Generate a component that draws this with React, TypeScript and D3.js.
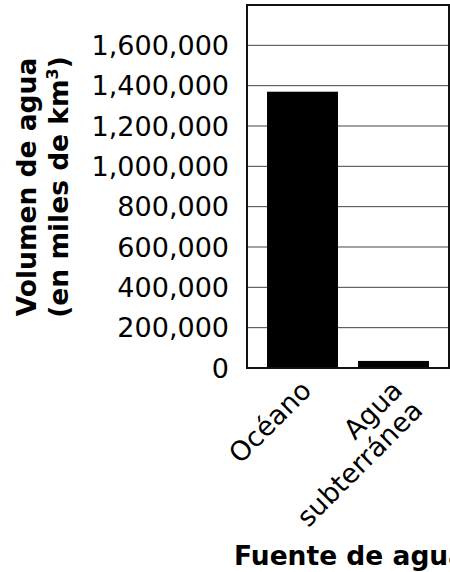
import React from "react";
import * as d3 from "d3";

const categories = ["Océano", "Agua subterránea"];
const categoryLines = [["Océano"], ["Agua", "subterránea"]];
const values = [1370000, 35000];
const yTicks = [0, 200000, 400000, 600000, 800000, 1000000, 1200000, 1400000, 1600000];
const yMax = 1800000;

export default function App() {
  const W = 450, H = 572;
  const left = 247, right = 449, top = 5, bottom = 368;
  const x = d3.scaleBand<string>().domain(categories).range([left, right]).paddingInner(0.22).paddingOuter(0.22);
  const y = d3.scaleLinear().domain([0, yMax]).range([bottom, top]);
  const fmt = d3.format(",");
  const font = "DejaVu Sans, Verdana, sans-serif";
  return (
    <svg width={W} height={H} style={{ position: "absolute", left: 0, top: 0 }} fontFamily={font}>
      <rect x={0} y={0} width={W} height={H} fill="#fff" />
      {yTicks.map((t) => (
        <g key={t}>
          {t > 0 && <line x1={left} x2={right} y1={y(t)} y2={y(t)} stroke="#444" strokeWidth={1} />}
          <text x={229} y={y(t)} dy="0.36em" textAnchor="end" fontSize={27} fill="#000">{fmt(t)}</text>
        </g>
      ))}
      {categories.map((c, i) => (
        <rect key={c} x={x(c)!} y={y(values[i])} width={x.bandwidth()} height={bottom - y(values[i])} fill="#000" />
      ))}
      <rect x={left} y={top} width={right - left} height={bottom - top} fill="none" stroke="#111" strokeWidth={2} />
      {categories.map((c, i) => {
        const cx = x(c)! + x.bandwidth() / 2;
        const lines = categoryLines[i];
        return (
          <g key={c} transform={`translate(${cx + 10.5},${bottom + 24}) rotate(-45)`}>
            {lines.map((l, j) => (
              <text key={j} x={0} y={j * 28.5} textAnchor="end" fontSize={27}>
                {l}
              </text>
            ))}
          </g>
        );
      })}
      <g transform={`translate(36,187) rotate(-90)`}>
        <text x={0} y={0} textAnchor="middle" fontSize={26.5} fontWeight="bold">Volumen de agua</text>
        <text x={0} y={32} textAnchor="middle" fontSize={26.5} fontWeight="bold">
          (en miles de km<tspan dy={-10} fontSize={16}>3</tspan><tspan dy={10}>)</tspan>
        </text>
      </g>
      <text x={234} y={565} fontSize={26.5} fontWeight="bold">Fuente de agua</text>
    </svg>
  );
}
